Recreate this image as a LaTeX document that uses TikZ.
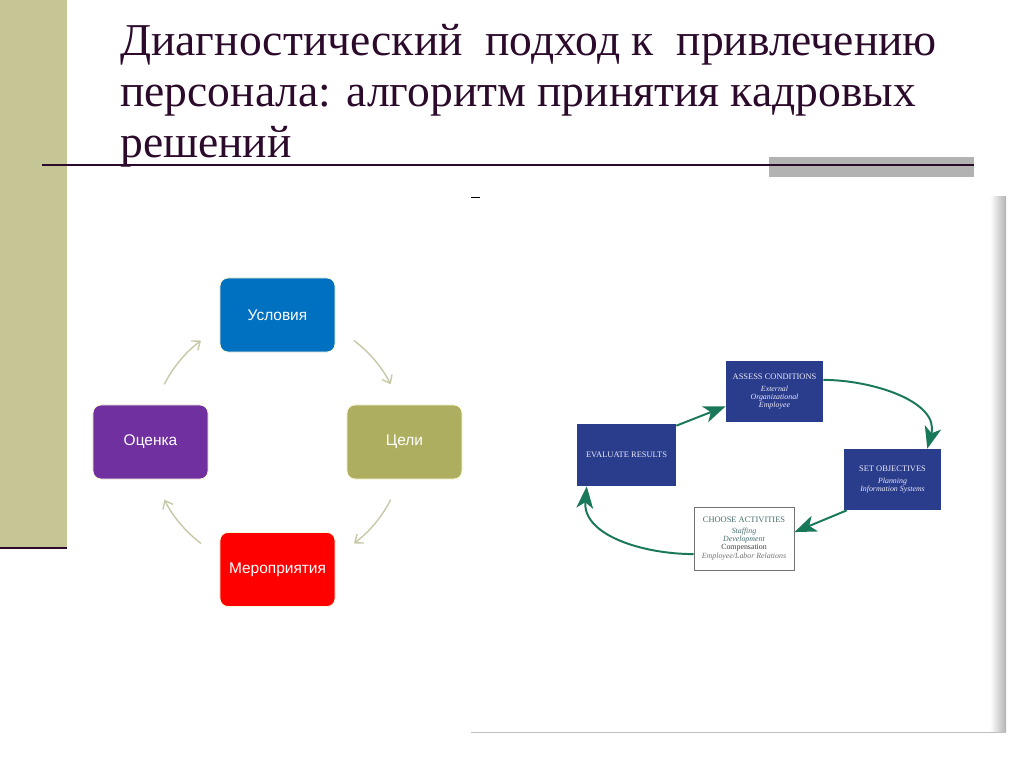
\documentclass[tikz,border=0pt]{standalone}
\usepackage{fontspec}
\setmainfont{Liberation Serif}
\newfontfamily\cardfont{Liberation Sans}
\usetikzlibrary{arrows.meta}
\definecolor{titleplum}{RGB}{43,10,43}
\definecolor{barolive}{RGB}{197,197,150}
\definecolor{rulegray}{RGB}{178,178,178}
\definecolor{usblue}{RGB}{0,112,192}
\definecolor{ceolive}{RGB}{174,174,96}
\definecolor{mered}{RGB}{255,0,0}
\definecolor{ocpurple}{RGB}{112,48,160}
\definecolor{cyclearr}{RGB}{200,200,168}
\definecolor{scannavy}{RGB}{42,60,140}
\definecolor{scangreen}{RGB}{26,120,90}
\definecolor{scanteal}{RGB}{70,110,110}
\newcommand\boxhead[1]{{\fontsize{6}{7}\selectfont #1}}
\newcommand\boxsub[1]{\textit{#1}}
\tikzset{
  titletext/.style={inner sep=0pt, align=left, text=titleplum,
    font=\fontsize{32.4}{36.3}\selectfont},
  stepcard/.style={rounded corners=0.2cm, minimum width=2.875cm, minimum height=1.85cm,
    draw={rgb,255:red,250;green,250;blue,215}, line width=0.6pt, text=white,
    font=\cardfont\fontsize{11}{13}\selectfont},
  cyclink/.style={draw=cyclearr, line width=1pt, -{Straight Barb[length=5pt,width=8pt]}},
  navybox/.style={fill=scannavy, text={rgb,255:red,235;green,235;blue,250}, inner sep=0pt,
    minimum width=2.425cm, minimum height=1.525cm, align=center,
    font=\fontsize{5.6}{5.8}\selectfont},
  scanlink/.style={draw=scangreen, line width=1.4pt,
    -{Stealth[length=0.55cm,width=0.42cm,inset=0.15cm]}}
}
\begin{document}
\begin{tikzpicture}[x=0.025cm, y=0.025cm]
		%%%%% START %%%%%
		\useasboundingbox (0,0) rectangle (1024,767);
		
		% left bar and title
		\fill[barolive] (0,219) rectangle (67,767);
		\draw[titleplum, line width=2pt] (0,219) -- (67,219);
		\node[titletext, anchor=north west] (title) at (120,743)
			{Диагностический\ \ подход к\ \ привлечению\\ персонала: алгоритм принятия кадровых\\ решений};
		\fill[rulegray] (769,590) rectangle (974,610);
		\draw[titleplum, line width=2pt] (42,602) -- (974,602);
		
		% left cycle
		\coordinate (cyc) at (277.5,325);
		\node[stepcard, fill=usblue] (usl) at (277.5,452) {Условия};
		\node[stepcard, fill=ceolive] (celi) at (404.5,325) {Цели};
		\node[stepcard, fill=mered] (mer) at (277.5,197.5) {Мероприятия};
		\node[stepcard, fill=ocpurple] (ocen) at (150.5,325) {Оценка};
		
		\draw[cyclink] ([shift={(53:3.175cm)}]cyc) arc[start angle=53, end angle=27, radius=3.175cm];
		\draw[cyclink] ([shift={(-27:3.175cm)}]cyc) arc[start angle=-27, end angle=-53, radius=3.175cm];
		\draw[cyclink] ([shift={(233:3.175cm)}]cyc) arc[start angle=233, end angle=207, radius=3.175cm];
		\draw[cyclink] ([shift={(153:3.175cm)}]cyc) arc[start angle=153, end angle=127, radius=3.175cm];
		
		% scanned page
		\shade[left color=white, right color=black!30] (990,35) rectangle (1006,570);
		\draw[black!25, line width=0.4pt] (471,35) -- (1006,35);
		\fill[black] (471,568.5) rectangle (480,570);
		
		\node[navybox] (assess) at (774.5,375.5)
			{\boxhead{ASSESS CONDITIONS}\\[2.5pt] \boxsub{External}\\ \boxsub{Organizational}\\ \boxsub{Employee}};
		\node[navybox, minimum width=2.475cm, minimum height=1.55cm] (eval) at (626.5,312)
			{\boxhead{EVALUATE RESULTS}};
		\node[navybox] (setobj) at (892.5,287.5)
			{\boxhead{SET OBJECTIVES}\\[2.5pt] \boxsub{Planning}\\ \boxsub{Information Systems}};
		\node[navybox, fill=white, draw=black!55, line width=0.6pt, text=scanteal,
			minimum width=2.5cm, minimum height=1.575cm] (choose) at (744,228.5)
			{\boxhead{CHOOSE ACTIVITIES}\\[2pt] \boxsub{Staffing}\\ \boxsub{Development}\\
			\textcolor{black!75}{Compensation}\\ \textcolor{black!55}{\boxsub{Employee/Labor Relations}}};
		
		\draw[scanlink] ([yshift=-0.05cm]eval.north east) -- ([yshift=0.4cm]assess.south west);
		\draw[scanlink] ([yshift=0.29cm]assess.east) to[out=0, in=75] ([xshift=-0.35cm]setobj.north east);
		\draw[scanlink] ([xshift=0.08cm]setobj.south west) -- ([yshift=0.16cm]choose.east);
		\draw[scanlink] ([yshift=-0.39cm]choose.west) to[out=180, in=-95] ([xshift=0.25cm]eval.south west);
		
		%%%%% END %%%%%
	\end{tikzpicture}
\end{document}
